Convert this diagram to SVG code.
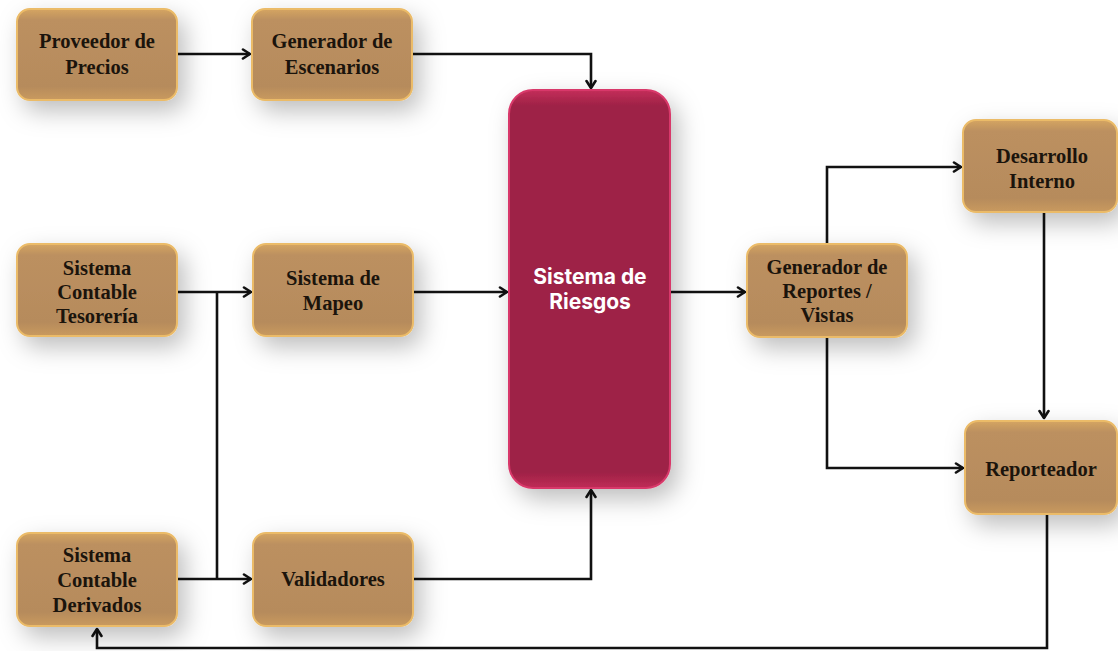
<svg xmlns="http://www.w3.org/2000/svg" width="1118" height="651" viewBox="0 0 1118 651">
<defs>
<filter id="sh" x="-30%" y="-30%" width="170%" height="180%">
<feDropShadow dx="7" dy="10" stdDeviation="12" flood-color="#000" flood-opacity="0.26"/>
</filter>
<linearGradient id="tan" x1="0" y1="0" x2="0" y2="1">
<stop offset="0" stop-color="#D5A562"/>
<stop offset="0.12" stop-color="#BC9060"/>
<stop offset="0.85" stop-color="#B68B5C"/>
<stop offset="1" stop-color="#C99A5E"/>
</linearGradient>
<linearGradient id="red" x1="0" y1="0" x2="0" y2="1">
<stop offset="0" stop-color="#C42E5A"/>
<stop offset="0.04" stop-color="#9E2246"/>
<stop offset="0.96" stop-color="#9E2246"/>
<stop offset="1" stop-color="#C02C57"/>
</linearGradient>
<marker id="ah" markerWidth="12" markerHeight="12" refX="9" refY="6" orient="auto" markerUnits="userSpaceOnUse">
<path d="M2,1.5 L9,6 L2,10.5" fill="none" stroke="#111" stroke-width="2.6" stroke-linecap="round" stroke-linejoin="round"/>
</marker>
</defs>
<style>
.box{fill:url(#tan);stroke:#EBBB68;stroke-width:2;filter:url(#sh)}
.red{fill:url(#red);stroke:#D8396A;stroke-width:2;filter:url(#sh)}
.t{font-family:"Liberation Serif","Times New Roman",serif;font-weight:bold;font-size:20.5px;fill:#1B140C;text-anchor:middle}
.rt{font-family:Inter,"Open Sans","DejaVu Sans",sans-serif;font-weight:700;font-size:21px;fill:#FFFFFF;text-anchor:middle}
.c{fill:none;stroke:#111;stroke-width:2.6}
</style>
<rect width="1118" height="651" fill="#FFFFFF"/>
<g id="connectors">
<path class="c" d="M177,54 H250" marker-end="url(#ah)"/>
<path class="c" d="M412,54 H591 V88" marker-end="url(#ah)"/>
<path class="c" d="M177,292 H251" marker-end="url(#ah)"/>
<path class="c" d="M217,292 V579"/>
<path class="c" d="M177,579 H251" marker-end="url(#ah)"/>
<path class="c" d="M413,292 H507" marker-end="url(#ah)"/>
<path class="c" d="M413,579 H591 V490" marker-end="url(#ah)"/>
<path class="c" d="M670,292 H745" marker-end="url(#ah)"/>
<path class="c" d="M827,244 V167 H961" marker-end="url(#ah)"/>
<path class="c" d="M827,337 V468 H963" marker-end="url(#ah)"/>
<path class="c" d="M1044,213 V418" marker-end="url(#ah)"/>
<path class="c" d="M1047,514 V648 H97 V629" marker-end="url(#ah)"/>
</g>
<g id="proveedor">
<rect class="box" x="17" y="9" width="160" height="91" rx="13"/>
<text class="t" x="97" y="48">Proveedor de</text>
<text class="t" x="97" y="74">Precios</text>
</g>
<g id="escenarios">
<rect class="box" x="252" y="9" width="160" height="91" rx="13"/>
<text class="t" x="332" y="48">Generador de</text>
<text class="t" x="332" y="74">Escenarios</text>
</g>
<g id="tesoreria">
<rect class="box" x="17" y="244" width="160" height="92" rx="13"/>
<text class="t" x="97" y="275">Sistema</text>
<text class="t" x="97" y="299">Contable</text>
<text class="t" x="97" y="323">Tesorería</text>
</g>
<g id="mapeo">
<rect class="box" x="253" y="244" width="160" height="92" rx="13"/>
<text class="t" x="333" y="285">Sistema de</text>
<text class="t" x="333" y="310">Mapeo</text>
</g>
<g id="derivados">
<rect class="box" x="17" y="533" width="160" height="93" rx="13"/>
<text class="t" x="97" y="562">Sistema</text>
<text class="t" x="97" y="587">Contable</text>
<text class="t" x="97" y="612">Derivados</text>
</g>
<g id="validadores">
<rect class="box" x="253" y="533" width="160" height="93" rx="13"/>
<text class="t" x="333" y="586">Validadores</text>
</g>
<g id="riesgos">
<rect class="red" x="509" y="90" width="161" height="398" rx="24"/>
<text class="rt" x="590" y="284">Sistema de</text>
<text class="rt" x="590" y="309">Riesgos</text>
</g>
<g id="reportes">
<rect class="box" x="747" y="244" width="160" height="93" rx="13"/>
<text class="t" x="827" y="274">Generador de</text>
<text class="t" x="827" y="298">Reportes /</text>
<text class="t" x="827" y="322">Vistas</text>
</g>
<g id="desarrollo">
<rect class="box" x="963" y="120" width="154" height="92" rx="13"/>
<text class="t" x="1042" y="163">Desarrollo</text>
<text class="t" x="1042" y="188">Interno</text>
</g>
<g id="reporteador">
<rect class="box" x="965" y="421" width="152" height="93" rx="13"/>
<text class="t" x="1041" y="476">Reporteador</text>
</g>
</svg>
